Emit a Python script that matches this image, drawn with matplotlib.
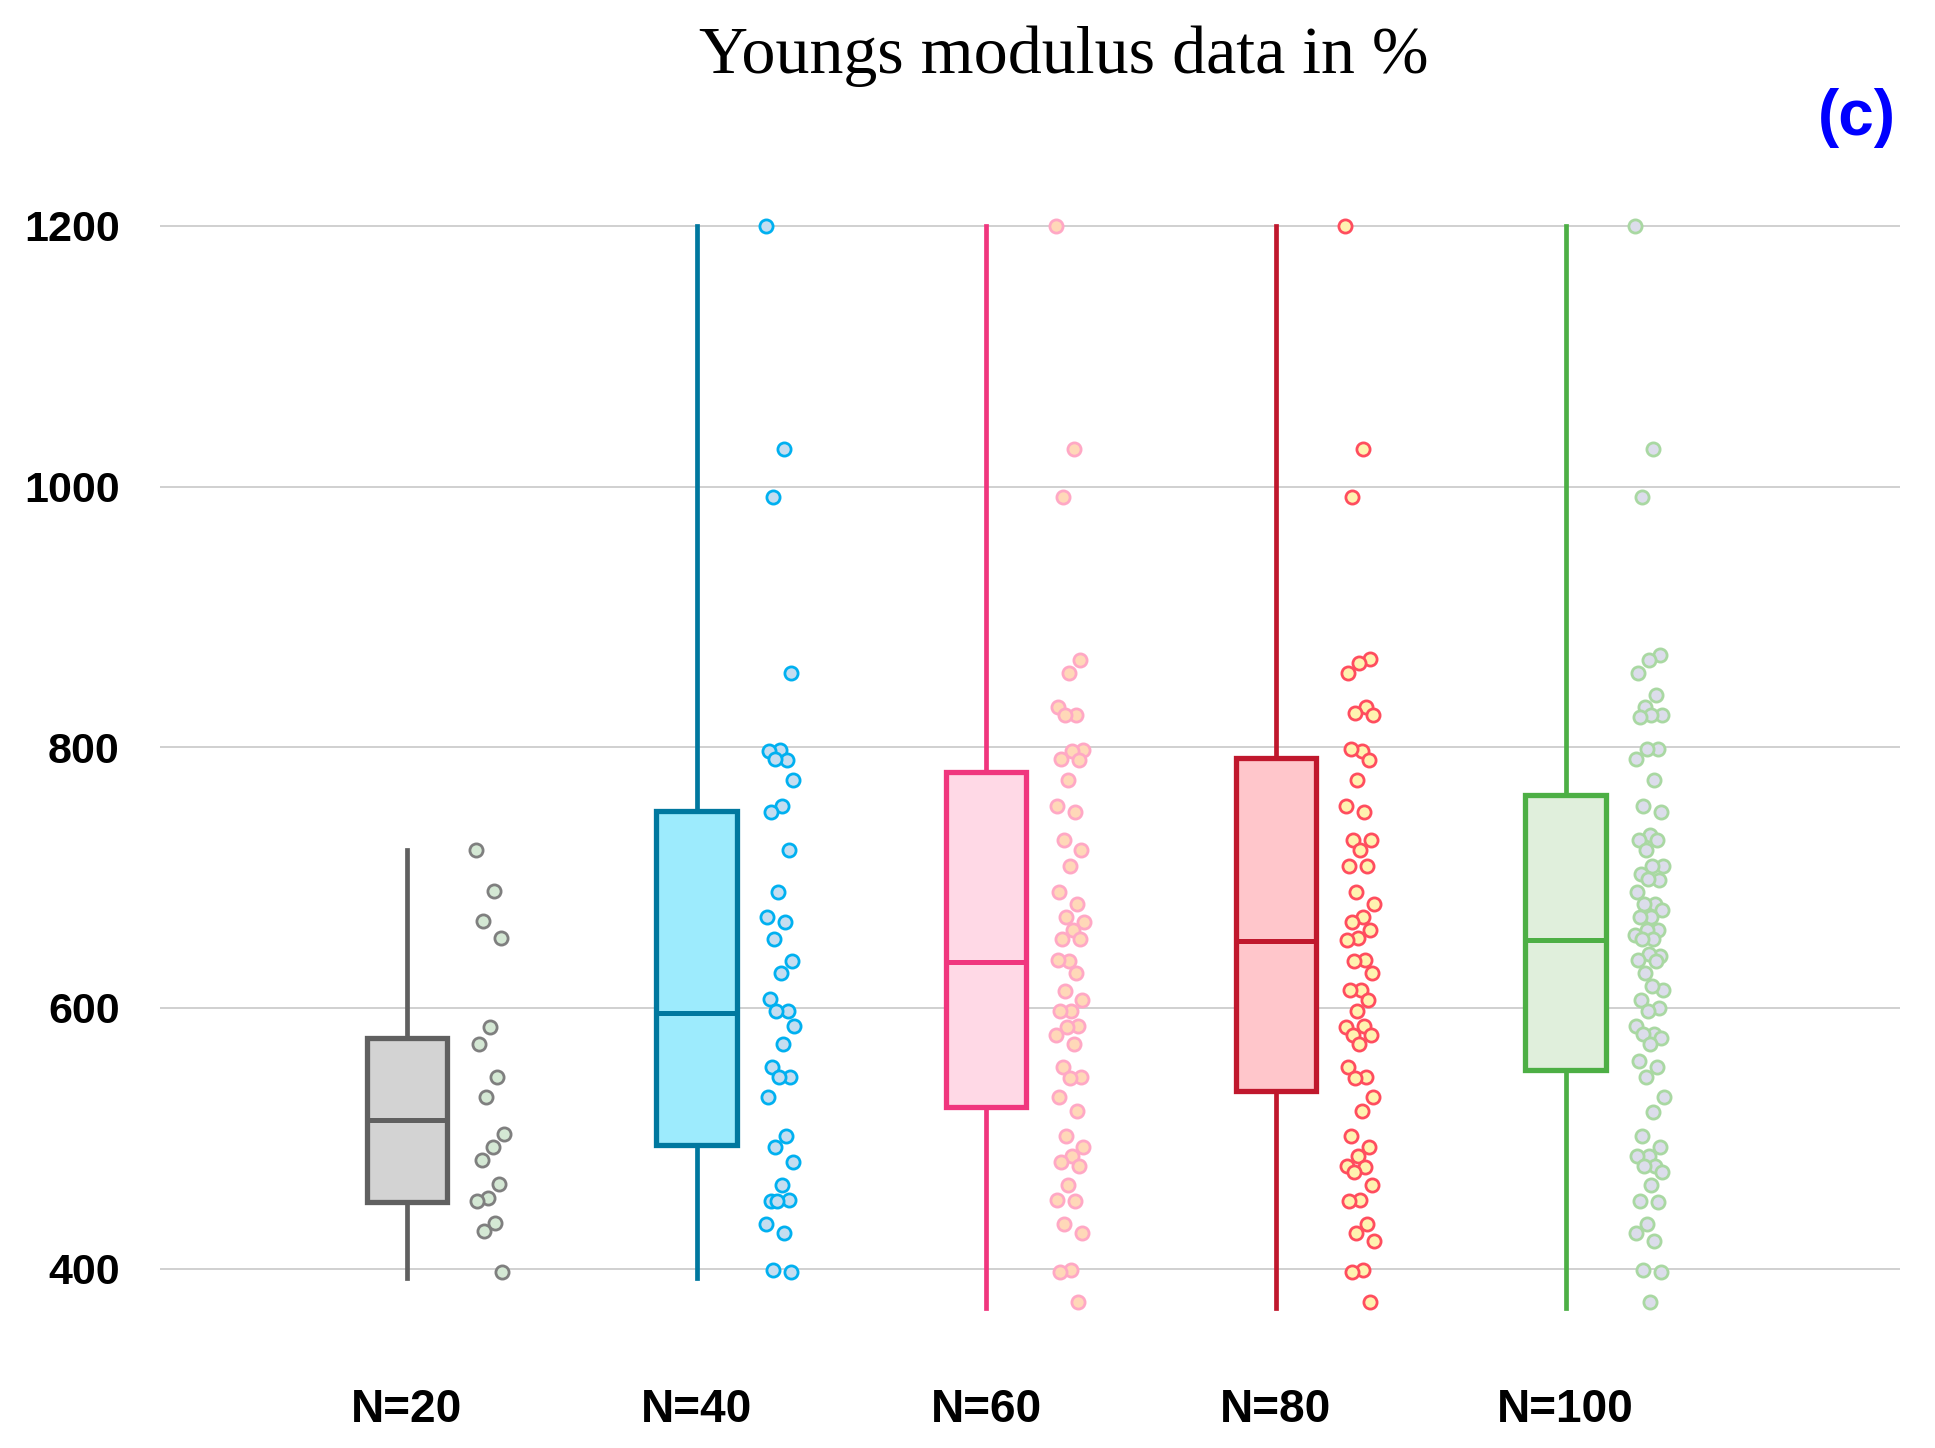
import numpy as np
import matplotlib
matplotlib.use("Agg")
import matplotlib.pyplot as plt

# ---------------- data ----------------
categories = ["N=20", "N=40", "N=60", "N=80", "N=100"]

pts_n20 = [721, 690, 667, 654, 585, 572, 547, 532, 503, 493, 483, 465,
           454, 452, 435, 429, 397]
pts_n40 = [1200, 1029, 992, 857, 798, 797, 790, 791, 775, 755, 750, 721,
           689, 670, 666, 653, 636, 627, 607, 598, 598, 586, 572, 555,
           547, 547, 532, 502, 493, 482, 464, 452, 453, 452, 434, 427,
           399, 397]
pts_n60 = [1200, 1029, 992, 867, 857, 831, 825, 825, 798, 797, 791, 790,
           775, 755, 750, 729, 721, 709, 689, 680, 670, 666, 660, 653,
           653, 636, 637, 627, 613, 606, 598, 598, 586, 585, 579, 572,
           555, 547, 546, 532, 521, 502, 493, 486, 482, 479, 464, 453,
           452, 434, 427, 399, 397, 374]
pts_n80 = [1200, 1029, 992, 868, 865, 857, 831, 826, 825, 797, 799, 790,
           775, 755, 750, 729, 729, 721, 709, 709, 689, 680, 670, 666,
           660, 654, 652, 637, 636, 627, 614, 614, 606, 598, 585, 586,
           579, 579, 572, 555, 547, 546, 532, 521, 502, 493, 486, 479,
           478, 474, 464, 453, 452, 434, 427, 421, 399, 397, 374]
pts_n100 = [1200, 1029, 992, 871, 867, 857, 840, 831, 825, 825, 823, 799,
            799, 791, 775, 755, 750, 733, 729, 729, 721, 709, 709, 703,
            698, 699, 689, 680, 680, 675, 670, 670, 660, 660, 656, 653,
            653, 640, 641, 637, 636, 627, 614, 617, 606, 600, 598, 586,
            580, 580, 577, 572, 559, 555, 547, 532, 520, 502, 493, 486,
            486, 479, 479, 474, 464, 452, 451, 434, 427, 421, 399, 397,
            374]

q1_vals = [451, 495, 524, 536, 552]
median_vals = [514, 596, 635, 651, 652]
q3_vals = [577, 751, 781, 792, 763]
whisker_low = [393, 393, 370, 370, 370]
whisker_high = [721, 1200, 1200, 1200, 1200]

# ---------------- styles ----------------
box_edge = ["#606060", "#00789F", "#F0367E", "#C0182D", "#4DAF45"]
box_fill = ["#D3D3D3", "#9DEBFD", "#FFD9E6", "#FFC6CB", "#E0EFDC"]
pt_face = ["#D4E8D4", "#C5DDF0", "#FFD8B8", "#FFF3B0", "#DCDDEB"]
pt_edge = ["#7F7F7F", "#00B0F0", "#FFA8C5", "#FF4D5E", "#A9D8A2"]

all_pts = [pts_n20, pts_n40, pts_n60, pts_n80, pts_n100]

fig = plt.figure(figsize=(19.35, 14.48), dpi=100)
ax = fig.add_axes([0.0827, 0.0699, 0.982 - 0.0827, 0.898 - 0.0699])

positions = np.arange(1, len(categories) + 1)

stats = []
for i in range(len(categories)):
    stats.append(dict(med=median_vals[i], q1=q1_vals[i], q3=q3_vals[i],
                      whislo=whisker_low[i], whishi=whisker_high[i],
                      fliers=[], label=categories[i]))

for i, st in enumerate(stats):
    ax.bxp([st], positions=[positions[i]], widths=0.277, showfliers=False,
           showcaps=False, patch_artist=True,
           boxprops=dict(facecolor=box_fill[i], edgecolor=box_edge[i], linewidth=3.8),
           medianprops=dict(color=box_edge[i], linewidth=3.6),
           whiskerprops=dict(color=box_edge[i], linewidth=3.4),
           zorder=3)

# deterministic jitter (golden-ratio sequence)
phi = 0.6180339887
for i, pts in enumerate(all_pts):
    n = len(pts)
    jit = ((np.arange(n) * phi) % 1.0 - 0.5) * 0.10
    x = positions[i] + 0.29 + jit
    ax.scatter(x, pts, s=90, facecolor=pt_face[i], edgecolor=pt_edge[i],
               linewidth=2.0, zorder=4)

ax.set_xlim(0.148, 6.155)
ax.set_ylim(340, 1260)
ax.set_yticks([400, 600, 800, 1000, 1200])
ax.set_xticks(positions)
ax.set_xticklabels(categories)
ax.grid(axis="y", color="#D0D0D0", linewidth=1.4, zorder=0)
ax.set_axisbelow(True)
for s in ax.spines.values():
    s.set_visible(False)
ax.tick_params(axis="both", length=0)
ax.tick_params(axis="y", pad=29)
ax.tick_params(axis="x", pad=30)
for lab in ax.get_yticklabels():
    lab.set_fontfamily("Liberation Sans")
    lab.set_fontweight("bold")
    lab.set_fontsize(31)
for lab in ax.get_xticklabels():
    lab.set_fontfamily("Liberation Sans")
    lab.set_fontweight("bold")
    lab.set_fontsize(33)

fig.text(1064 / 1935, 1 - 56 / 1448, "Youngs modulus data in %",
         ha="center", va="center", fontsize=49, family="Liberation Serif")
fig.text(1857 / 1935, 1 - 118 / 1448, "(c)", ha="center", va="center",
         fontsize=46, fontweight="bold", color="#0000FF", family="Liberation Sans")

fig.savefig("out.png", dpi=100)
